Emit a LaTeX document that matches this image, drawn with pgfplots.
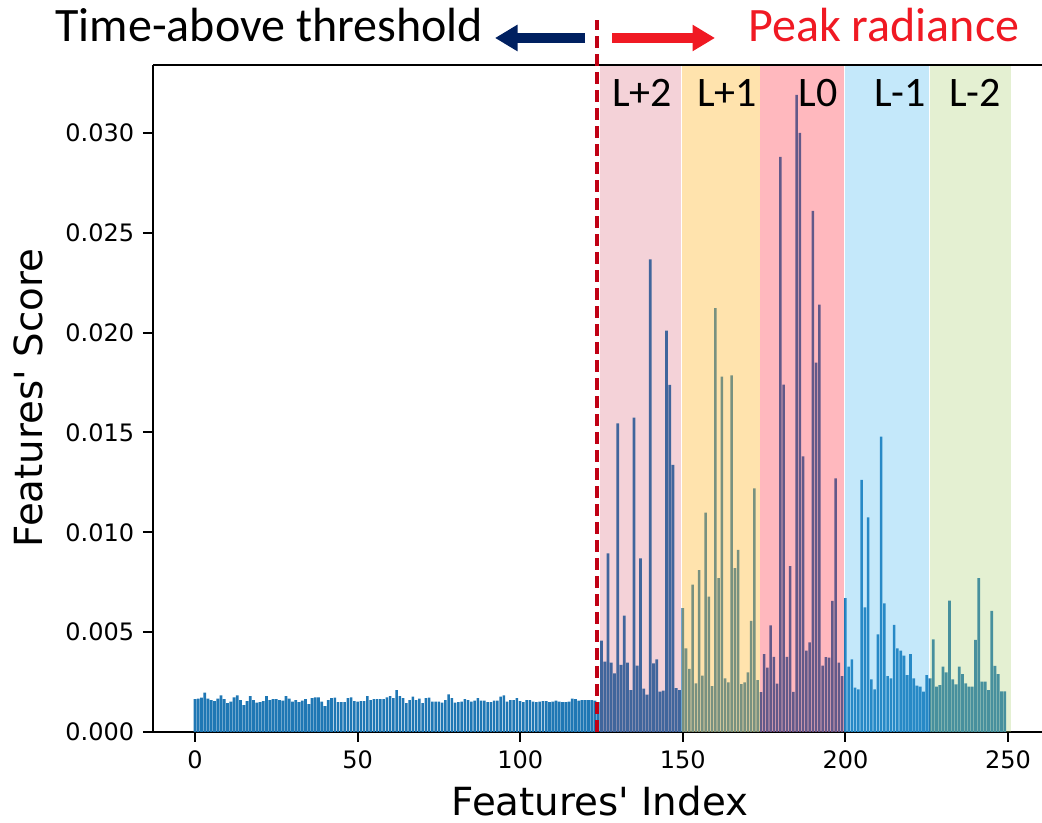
\documentclass[border=0pt]{standalone}
\usepackage{fontspec}
\setmainfont{DejaVu Sans}[Ligatures=TeXOff]
\newfontfamily\calib{Carlito}
\usepackage{pgfplots}
\pgfplotsset{compat=1.18}
\usepackage{pgfplotstable}
\usetikzlibrary{arrows.meta}

\definecolor{barblue}{RGB}{31,119,180}
\definecolor{spanpink}{RGB}{200,30,60}
\definecolor{spanorange}{RGB}{255,185,50}
\definecolor{spanred}{RGB}{255,20,40}
\definecolor{spanblue}{RGB}{60,180,240}
\definecolor{spangreen}{RGB}{165,205,105}
\definecolor{navyarrow}{RGB}{0,32,96}
\definecolor{peakred}{RGB}{240,25,35}
\definecolor{lineRed}{RGB}{192,0,20}

% feature scores
\pgfplotstableread{
idx score
0 0.00165
1 0.00167
2 0.00172
3 0.00197
4 0.00167
5 0.00159
6 0.00155
7 0.00167
8 0.00184
9 0.00164
10 0.00144
11 0.00152
12 0.00174
13 0.00184
14 0.00160
15 0.00134
16 0.00155
17 0.00180
18 0.00160
19 0.00147
20 0.00150
21 0.00155
22 0.00180
23 0.00160
24 0.00164
25 0.00164
26 0.00160
27 0.00157
28 0.00180
29 0.00167
30 0.00152
31 0.00160
32 0.00149
33 0.00157
34 0.00164
35 0.00139
36 0.00170
37 0.00174
38 0.00174
39 0.00152
40 0.00130
41 0.00160
42 0.00170
43 0.00172
44 0.00149
45 0.00149
46 0.00149
47 0.00169
48 0.00174
49 0.00155
50 0.00152
51 0.00155
52 0.00155
53 0.00180
54 0.00160
55 0.00164
56 0.00164
57 0.00164
58 0.00164
59 0.00174
60 0.00180
61 0.00169
62 0.00210
63 0.00180
64 0.00169
65 0.00144
66 0.00160
67 0.00177
68 0.00160
69 0.00167
70 0.00144
71 0.00169
72 0.00172
73 0.00152
74 0.00152
75 0.00152
76 0.00147
77 0.00160
78 0.00189
79 0.00169
80 0.00147
81 0.00150
82 0.00152
83 0.00164
84 0.00160
85 0.00152
86 0.00157
87 0.00169
88 0.00157
89 0.00157
90 0.00150
91 0.00150
92 0.00157
93 0.00157
94 0.00177
95 0.00184
96 0.00152
97 0.00160
98 0.00160
99 0.00169
100 0.00155
101 0.00149
102 0.00160
103 0.00160
104 0.00152
105 0.00149
106 0.00152
107 0.00155
108 0.00155
109 0.00150
110 0.00152
111 0.00157
112 0.00152
113 0.00149
114 0.00149
115 0.00152
116 0.00167
117 0.00164
118 0.00157
119 0.00160
120 0.00160
121 0.00160
122 0.00160
123 0.00157
124 0.00150
125 0.00457
126 0.00352
127 0.00895
128 0.00347
129 0.00294
130 0.01546
131 0.00336
132 0.00583
133 0.00347
134 0.00210
135 0.01574
136 0.00332
137 0.00870
138 0.00217
139 0.00187
140 0.02367
141 0.00344
142 0.00364
143 0.00202
144 0.00207
145 0.02010
146 0.01738
147 0.01337
148 0.00220
149 0.00210
150 0.00620
151 0.00419
152 0.00316
153 0.00738
154 0.00244
155 0.00811
156 0.00282
157 0.01098
158 0.00678
159 0.00230
160 0.02122
161 0.00770
162 0.01780
163 0.00269
164 0.00249
165 0.01786
166 0.00820
167 0.00912
168 0.00240
169 0.00249
170 0.00299
171 0.00556
172 0.01220
173 0.00260
174 0.00200
175 0.00390
176 0.00322
177 0.00534
178 0.00376
179 0.00242
180 0.02880
181 0.01740
182 0.00376
183 0.00830
184 0.00201
185 0.03190
186 0.03000
187 0.01380
188 0.00407
189 0.00449
190 0.02610
191 0.01850
192 0.02140
193 0.00332
194 0.00375
195 0.00372
196 0.00656
197 0.01270
198 0.00347
199 0.00280
200 0.00670
201 0.00327
202 0.00364
203 0.00222
204 0.00214
205 0.01262
206 0.00624
207 0.01075
208 0.00264
209 0.00214
210 0.00489
211 0.01479
212 0.00644
213 0.00280
214 0.00269
215 0.00536
216 0.00419
217 0.00407
218 0.00382
219 0.00285
220 0.00390
221 0.00269
222 0.00232
223 0.00227
224 0.00202
225 0.00285
226 0.00269
227 0.00464
228 0.00227
229 0.00235
230 0.00327
231 0.00299
232 0.00658
233 0.00264
234 0.00239
235 0.00327
236 0.00290
237 0.00244
238 0.00227
239 0.00227
240 0.00461
241 0.00770
242 0.00252
243 0.00252
244 0.00210
245 0.00606
246 0.00331
247 0.00290
248 0.00204
249 0.00204
}\scores

\begin{document}
\begin{tikzpicture}[x=1pt,y=1pt]
\useasboundingbox (-61.2,-36) rectangle (355.6,292.8);
\begin{axis}[
    at={(0,0)}, anchor=south west,
    width=355.6pt, height=266.8pt, scale only axis,
    xmin=-12.9, xmax=260.45,
    ymin=0, ymax=0.0334,
    axis x line*=bottom, axis y line*=left,
    axis line style={-, line width=0.8pt, black},
    clip=false,
    xtick={0,50,100,150,200,250},
    ytick={0,0.005,0.01,0.015,0.02,0.025,0.03},
    scaled y ticks=false,
    yticklabel style={/pgf/number format/fixed, /pgf/number format/fixed zerofill, /pgf/number format/precision=3},
    /pgf/number format/assume math mode=true,
    ticklabel style={font=\fontsize{9.6}{11}\selectfont},
    tick align=outside, major tick length=4pt,
    tick style={black, line width=0.8pt},
]
\addplot[ybar, bar width=0.8, bar shift=0pt, fill=barblue, draw=none] table[x=idx, y=score] {\scores};

% coloured regions laid over the bars
\fill[spanpink, fill opacity=0.2] (axis cs:124.6,0) rectangle (axis cs:149.6,0.0334);
\fill[spanorange, fill opacity=0.4] (axis cs:149.8,0) rectangle (axis cs:173.7,0.0334);
\fill[spanred, fill opacity=0.3] (axis cs:173.7,0) rectangle (axis cs:199.6,0.0334);
\fill[spanblue, fill opacity=0.3] (axis cs:199.8,0) rectangle (axis cs:225.8,0.0334);
\fill[spangreen, fill opacity=0.3] (axis cs:226.0,0) rectangle (axis cs:250.8,0.0334);

\draw[black, line width=0.8pt] (rel axis cs:0,1) -- (rel axis cs:1,1);

\draw[lineRed, line width=1.5pt, dash pattern=on 4.8pt off 2.4pt] (axis cs:123.6,0) -- (axis cs:123.6,0.03566);

\begin{scope}[every node/.style={font=\calib\fontsize{16.8}{18}\selectfont, anchor=base, inner sep=0pt}]
\node at (axis cs:137.5,0.0313) {L+2};
\node at (axis cs:163.6,0.0313) {L+1};
\node at (axis cs:191.6,0.0313) {L0};
\node at (axis cs:216.8,0.0313) {L-1};
\node at (axis cs:239.9,0.0313) {L-2};
\end{scope}
\end{axis}

\node[anchor=base, inner sep=0pt, font=\fontsize{15.5}{17}\selectfont] at (178.8,-33.2) {Features' Index};
\node[anchor=base, rotate=90, inner sep=0pt, font=\fontsize{15.5}{17}\selectfont] at (-44,133.6) {Features' Score};

\node[anchor=base west, inner sep=0pt, font=\calib\fontsize{19.2}{21}\selectfont] at (-39.2,276) {Time-above threshold};
\node[anchor=base west, inner sep=0pt, font=\calib\fontsize{19.2}{21}\selectfont, text=peakred] at (238,276) {Peak radiance};
\draw[navyarrow, line width=4pt, -{Triangle[length=9pt, width=10pt]}] (172.8,277.6) -- (136.8,277.6);
\draw[peakred, line width=4pt, -{Triangle[length=9pt, width=10pt]}] (183.6,277.6) -- (224.8,277.6);
\end{tikzpicture}
\end{document}
